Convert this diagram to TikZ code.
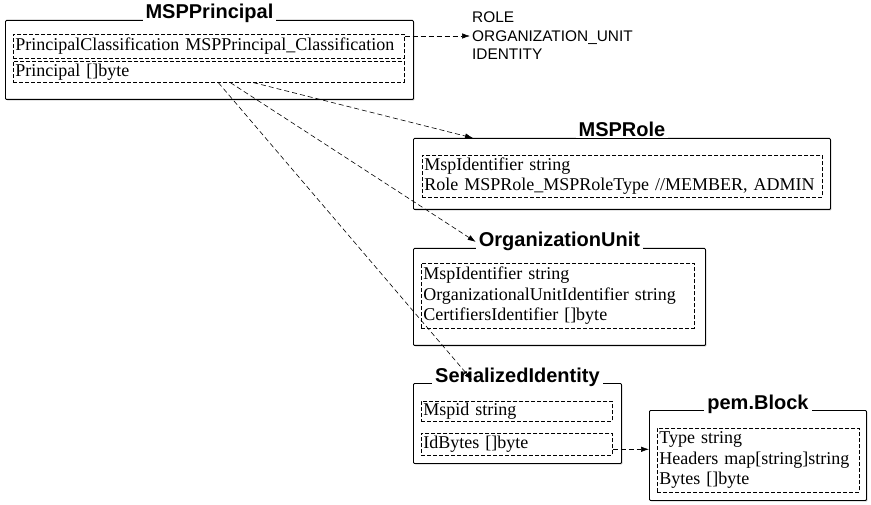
\documentclass[tikz,border=0pt]{standalone}
\usepackage{fontspec}
\setmainfont{Liberation Serif}
\setsansfont{Liberation Sans}
\usetikzlibrary{arrows.meta,positioning,calc,shadows}
\tikzset{
	classbox/.style={draw, rounded corners=1pt, line width=0.9pt, fill=white, anchor=north west, inner sep=0,
		drop shadow={shadow xshift=1pt, shadow yshift=-1pt, fill=black!60}},
	classname/.style={fill=white, anchor=base, inner xsep=3pt, inner ysep=1pt,
		font=\sffamily\bfseries\fontsize{20}{24}\selectfont},
	field/.style={draw, line width=0.6pt, dash pattern=on 4pt off 2pt, anchor=north west, align=left,
		inner xsep=2pt, inner ysep=0pt, font=\fontsize{18}{20.5}\selectfont},
	link/.style={line width=0.6pt, dash pattern=on 5pt off 3pt, ->}
}

\begin{document}
\begin{tikzpicture}[x=1pt, y=-1pt, >={Latex[length=8pt,width=5.5pt]}]
	\useasboundingbox (0,0) rectangle (871,505);
	% MSPPrincipal
	\node[classbox, minimum width=408, minimum height=79] (mp) at (5,20) {};
	\node[field, minimum width=391, minimum height=24, text width=387] (mp_1) at (13,34) {PrincipalClassification MSPPrincipal\_Classification};
	\node[field, minimum width=391, minimum height=21, text width=387] (mp_2) at (13,61) {Principal []byte};
	\node[classname] (mp_t) at ([yshift=1pt]mp.north) {MSPPrincipal};
	\node[anchor=west, align=left, inner sep=0, font=\sffamily\fontsize{15.4}{18.5}\selectfont] (en) at (472,36) {ROLE\\ORGANIZATION\_UNIT\\IDENTITY};
	% MSPRole
	\node[classbox, minimum width=417, minimum height=71] (mr) at (413,138) {};
	\node[field, minimum width=400, minimum height=42, text width=396] (mr_1) at (422,155) {MspIdentifier string\\Role MSPRole\_MSPRoleType //MEMBER, ADMIN};
	\node[classname] (mr_t) at ([yshift=1pt]mr.north) {MSPRole};
	% OrganizationUnit
	\node[classbox, minimum width=292, minimum height=97] (ou) at (413,248) {};
	\node[field, minimum width=273, minimum height=65, text width=269] (ou_1) at (421,263) {MspIdentifier string\\OrganizationalUnitIdentifier string\\CertifiersIdentifier []byte};
	\node[classname] (ou_t) at ([yshift=1pt]ou.north) {OrganizationUnit};
	% SerializedIdentity
	\node[classbox, minimum width=208, minimum height=80] (si) at (413,383) {};
	\node[field, minimum width=191, minimum height=20, text width=187] (si_1) at (421,401) {Mspid string};
	\node[field, minimum width=191, minimum height=22, text width=187] (si_2) at (421,433) {IdBytes []byte};
	\node[classname] (si_t) at ([yshift=1pt]si.north) {SerializedIdentity};
	% pem.Block
	\node[classbox, minimum width=217, minimum height=90] (pb) at (649,410) {};
	\node[field, minimum width=202, minimum height=64, text width=198] (pb_1) at (657,428) {Type string\\Headers map[string]string\\Bytes []byte};
	\node[classname] (pb_t) at ([yshift=1pt]pb.north) {pem.Block};
	% links
	\path[link] (mp_1.east |- en.west) edge ([xshift=-2pt]en.west);
	\path[link] ([xshift=44.5pt]mp_2.south) edge ([xshift=60pt]mr.north west);
	\path[link] ([xshift=21.5pt]mp_2.south) edge (ou_t.west);
	\path[link] ([xshift=9.5pt]mp_2.south) edge ([xshift=59pt,yshift=3pt]si.north west);
	\path[link] ([yshift=-5pt]si_2.east) edge ([yshift=-5pt]si_2.east -| pb.west);
\end{tikzpicture}
\end{document}
